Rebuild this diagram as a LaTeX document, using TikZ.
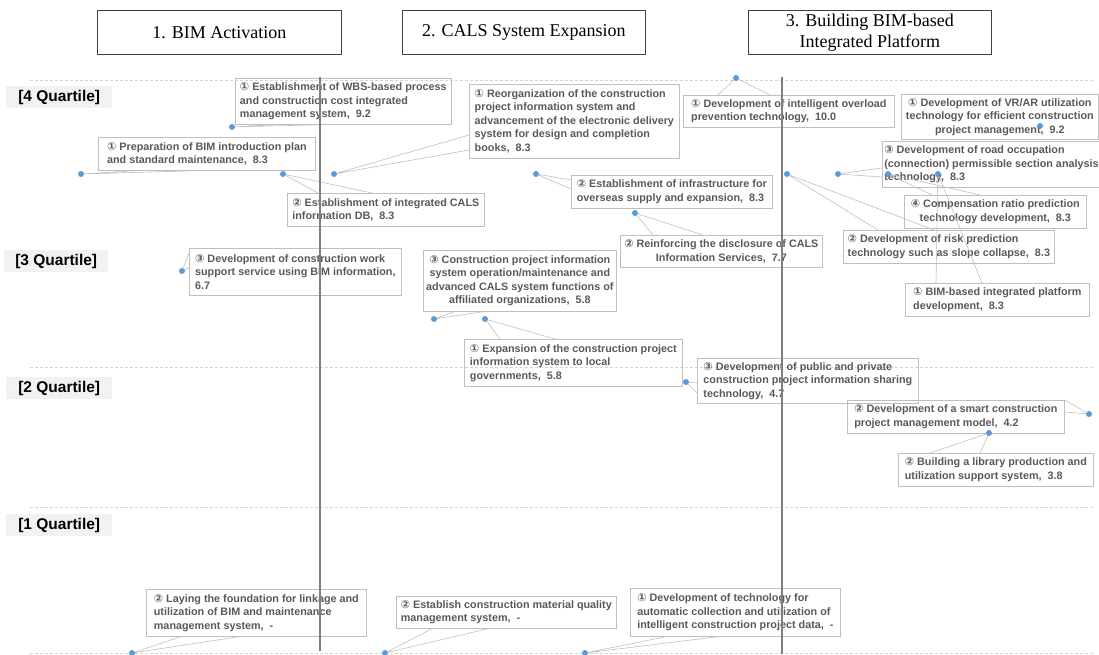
\documentclass[tikz,border=0pt]{standalone}
\usepackage{fontspec}
\setmainfont{Liberation Sans}
\newfontfamily\headfont{Liberation Serif}
\newfontfamily\circfont{DejaVu Sans}
\definecolor{boxline}{HTML}{BFBFBF}
\definecolor{itemtext}{HTML}{595959}
\definecolor{dotblue}{HTML}{5B9BD5}
\definecolor{gridgray}{HTML}{D4D4D4}
\definecolor{axisgray}{HTML}{7F7F7F}
\definecolor{labelgray}{HTML}{F2F2F2}
\newcommand{\cn}[1]{{\circfont\fontsize{11}{11}\selectfont #1}}

\begin{document}
\begin{tikzpicture}[x=1pt, y=-1pt,
        head/.style={draw=black!75, line width=0.8pt, font=\headfont\fontsize{18}{21}\selectfont, align=center, anchor=north west, inner sep=0pt},
        quart/.style={fill=labelgray, font=\bfseries\fontsize{15.5}{18}\selectfont, anchor=north west, inner sep=0pt, minimum width=106, minimum height=22},
        item/.style={draw=boxline, line width=0.7pt, text=itemtext, font=\bfseries\fontsize{10.8}{13.5}\selectfont, align=left, anchor=north west, inner sep=2pt},
        bluedot/.style={circle, fill=dotblue, inner sep=0pt, minimum size=6pt},
        leader/.style={draw=boxline, line width=0.6pt},
        gridline/.style={draw=gridgray, line width=0.7pt, dash pattern=on 3pt off 2pt},
        axisline/.style={draw=axisgray, line width=1.3pt}
    ]
        \useasboundingbox (0,0) rectangle (1099,655);

        % Column headers
        \node[head, minimum width=244, minimum height=44] (hbim) at (97,10) {1. BIM Activation};
        \node[head, minimum width=243, minimum height=44] (hcals) at (402,10) {2. CALS System Expansion};
        \node[head, minimum width=243, minimum height=44] (hplat) at (748,10) {3. Building BIM-based\\Integrated Platform};

        % Quartile rows
        \draw[gridline] (30,80) -- (1093,80);
        \draw[gridline] (30,367) -- (1093,367);
        \draw[gridline] (30,507) -- (1093,507);
        \draw[gridline] (30,653) -- (1093,653);

        \node[quart] (q4) at (6,86) {[4 Quartile]};
        \node[quart, minimum width=104] (q3) at (4,250) {[3 Quartile]};
        \node[quart] (q2) at (6,377) {[2 Quartile]};
        \node[quart] (q1) at (6,514) {[1 Quartile]};

        % 1. BIM Activation
        \node[item, minimum width=216, minimum height=46] (wbs) at (235,78) {\cn{①} Establishment of WBS-based process\\and construction cost integrated\\management system,\ \ 9.2};
        \node[item, minimum width=217, minimum height=33] (prep) at (98,137) {\cn{①} Preparation of BIM introduction plan\\and standard maintenance,\ \ 8.3};
        \node[item, minimum width=197, minimum height=33] (calsdb) at (287,193) {\cn{②} Establishment of integrated CALS\\information DB,\ \ 8.3};
        \node[item, minimum width=212, minimum height=47] (worksup) at (189,248) {\cn{③} Development of construction work\\support service using BIM information,\\6.7};
        \node[item, minimum width=220, minimum height=47] (found) at (146,589) {\cn{②} Laying the foundation for linkage and\\utilization of BIM and maintenance\\management system,\ \ -};

        % 2. CALS System Expansion
        \node[item, minimum width=210, minimum height=74] (reorg) at (469,84) {\cn{①} Reorganization of the construction\\project information system and\\advancement of the electronic delivery\\system for design and completion\\books,\ \ 8.3};
        \node[item, minimum width=201, minimum height=33] (infra) at (571,175) {\cn{②} Establishment of infrastructure for\\overseas supply and expansion,\ \ 8.3};
        \node[item, align=center, minimum width=202, minimum height=32] (reinf) at (620,235) {\cn{②} Reinforcing the disclosure of CALS\\Information Services,\ \ 7.7};
        \node[item, align=center, minimum width=193, minimum height=61] (oper) at (423,250) {\cn{③} Construction project information\\system operation/maintenance and\\advanced CALS system functions of\\affiliated organizations,\ \ 5.8};
        \node[item, minimum width=218, minimum height=47] (local) at (464,339) {\cn{①} Expansion of the construction project\\information system to local\\governments,\ \ 5.8};
        \node[item, minimum width=220, minimum height=32] (qual) at (396,596) {\cn{②} Establish construction material quality\\management system,\ \ -};
        \node[item, minimum width=210, minimum height=48] (auto) at (630,588) {\cn{①} Development of technology for\\automatic collection and utilization of\\intelligent construction project data,\ \ -};

        % 3. Building BIM-based Integrated Platform
        \node[item, minimum width=211, minimum height=32] (overload) at (683,95) {\cn{①} Development of intelligent overload\\prevention technology,\ \ 10.0};
        \node[item, align=center, minimum width=197, minimum height=45] (vrar) at (901,94) {\cn{①} Development of VR/AR utilization\\technology for efficient construction\\project management,\ \ 9.2};
        \node[item, minimum width=215, minimum height=46] (road) at (882,141) {\cn{③} Development of road occupation\\(connection) permissible section analysis\\technology,\ \ 8.3};
        \node[item, align=center, minimum width=182, minimum height=33] (comp) at (904,195) {\cn{④} Compensation ratio prediction\\technology development,\ \ 8.3};
        \node[item, minimum width=211, minimum height=33] (risk) at (843,230) {\cn{②} Development of risk prediction\\technology such as slope collapse,\ \ 8.3};
        \node[item, minimum width=184, minimum height=33] (bimplat) at (905,283) {\cn{①} BIM-based integrated platform\\development,\ \ 8.3};
        \node[item, minimum width=221, minimum height=45] (share) at (697,358) {\cn{③} Development of public and private\\construction project information sharing\\technology,\ \ 4.7};
        \node[item, minimum width=217, minimum height=33] (smart) at (847,400) {\cn{②} Development of a smart construction\\project management model,\ \ 4.2};
        \node[item, minimum width=195, minimum height=33] (lib) at (898,453) {\cn{②} Building a library production and\\utilization support system,\ \ 3.8};

        % Data points
        \node[bluedot] (wbsdot) at (232,127) {};
        \node[bluedot] (prepdot) at (81,174) {};
        \node[bluedot] (calsdbdot) at (283,174) {};
        \node[bluedot] (worksupdot) at (182,271) {};
        \node[bluedot] (founddot) at (132,653) {};
        \node[bluedot] (reorgdot) at (334,174) {};
        \node[bluedot] (infradot) at (536,174) {};
        \node[bluedot] (reinfdot) at (635,213) {};
        \node[bluedot] (operdot) at (434,319) {};
        \node[bluedot] (localdot) at (485,319) {};
        \node[bluedot] (qualdot) at (385,653) {};
        \node[bluedot] (autodot) at (585,653) {};
        \node[bluedot] (overloaddot) at (736,78) {};
        \node[bluedot] (vrardot) at (1040,126) {};
        \node[bluedot] (roaddot) at (838,174) {};
        \node[bluedot] (compdot) at (888,174) {};
        \node[bluedot] (riskdot) at (787,174) {};
        \node[bluedot] (bimplatdot) at (938,174) {};
        \node[bluedot] (sharedot) at (686,382) {};
        \node[bluedot] (smartdot) at (1089,414) {};
        \node[bluedot] (libdot) at (989,433) {};

        % Callout pointers
        \draw[leader] (wbsdot) -- ([xshift=36pt]wbs.south west) (wbsdot) -- ([xshift=86pt]wbs.south west);
        \draw[leader] (prepdot) -- ([xshift=37pt]prep.south west) (prepdot) -- ([xshift=97pt]prep.south west);
        \draw[leader] (calsdbdot) -- ([xshift=31pt]calsdb.north west) (calsdbdot) -- ([xshift=85pt]calsdb.north west);
        \draw[leader] (worksupdot) -- ([yshift=-5pt]worksup.north west) (worksupdot) -- ([yshift=-20pt]worksup.north west);
        \draw[leader] (founddot) -- ([xshift=35pt]found.south west) (founddot) -- ([xshift=93pt]found.south west);
        \draw[leader] (reorgdot) -- ([yshift=-51pt]reorg.north west) (reorgdot) -- ([yshift=-66pt]reorg.north west);
        \draw[leader] (infradot) -- ([yshift=-5pt]infra.north west) (infradot) -- ([yshift=-14pt]infra.north west);
        \draw[leader] (reinfdot) -- ([xshift=33pt]reinf.north west) (reinfdot) -- ([xshift=83pt]reinf.north west);
        \draw[leader] (operdot) -- ([xshift=31pt]oper.south west) (operdot) -- ([xshift=60pt]oper.south west);
        \draw[leader] (localdot) -- ([xshift=36pt]local.north west) (localdot) -- ([xshift=91pt]local.north west);
        \draw[leader] (qualdot) -- ([xshift=36pt]qual.south west) (qualdot) -- ([xshift=92pt]qual.south west);
        \draw[leader] (autodot) -- ([xshift=36pt]auto.south west) (autodot) -- ([xshift=88pt]auto.south west);
        \draw[leader] (overloaddot) -- ([xshift=35pt]overload.north west) (overloaddot) -- ([xshift=87pt]overload.north west);
        \draw[leader] (roaddot) -- ([yshift=-27pt]road.north west) (roaddot) -- ([yshift=-36pt]road.north west);
        \draw[leader] (compdot) -- ([xshift=28pt]comp.north west) (compdot) -- ([xshift=76pt]comp.north west);
        \draw[leader] (riskdot) -- ([xshift=35pt]risk.north west) (riskdot) -- ([xshift=91pt]risk.north west);
        \draw[leader] (bimplatdot) -- ([xshift=31pt]bimplat.north west) (bimplatdot) -- ([xshift=77pt]bimplat.north west);
        \draw[leader] (sharedot) -- ([yshift=-25pt]share.north west) (sharedot) -- ([yshift=-35pt]share.north west);
        \draw[leader] (smartdot) -- (smart.north east) (smartdot) -- ([yshift=-12pt]smart.north east);
        \draw[leader] (libdot) -- ([xshift=32pt]lib.north west) (libdot) -- ([xshift=82pt]lib.north west);

        % Column dividers
        \draw[axisline] (320,77) -- (320,651);
        \draw[axisline] (782,77) -- (782,654);
    \end{tikzpicture}
\end{document}
